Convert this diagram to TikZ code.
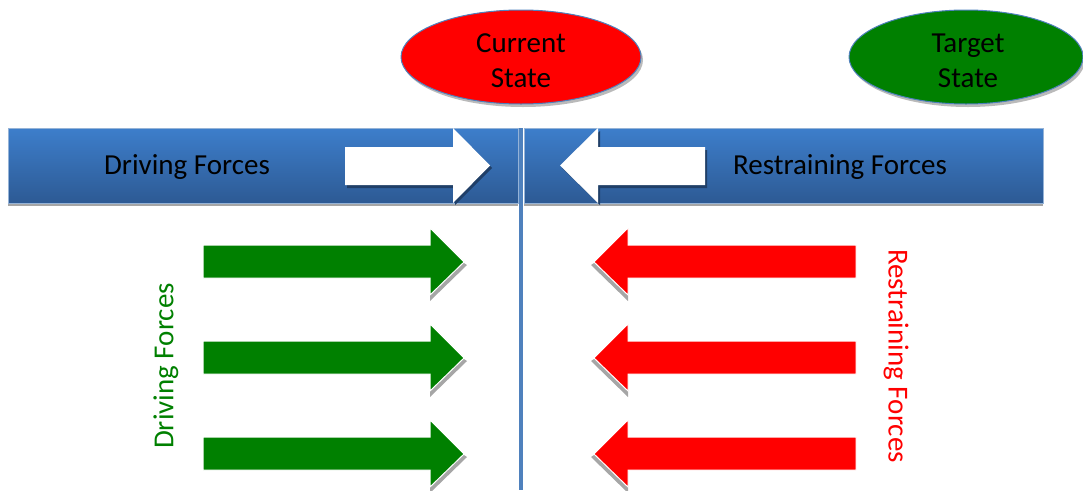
\documentclass[tikz,border=0pt]{standalone}
\usepackage{fontspec}
\setmainfont{Carlito}
\usetikzlibrary{shapes.geometric,shadows}
\definecolor{edgeblue}{HTML}{4F81BD}
\definecolor{bartop}{HTML}{3D7ECB}
\definecolor{barbot}{HTML}{2D5A94}
\definecolor{fgreen}{HTML}{008000}
\definecolor{fred}{HTML}{FF0000}
\definecolor{shadowgray}{HTML}{A6A6A6}
\begin{document}
\begin{tikzpicture}[x=1pt,y=-1pt,
  lbl/.style={font=\fontsize{29}{35}\selectfont, inner sep=0pt, align=center},
  statenode/.style={ellipse, draw=edgeblue, line width=1pt, inner sep=0pt,
    minimum width=240pt, minimum height=94pt,
    drop shadow={shadow xshift=2pt, shadow yshift=-3pt, fill=black!45, opacity=0.6}},
  barbox/.style={rectangle, inner sep=0pt, minimum height=75pt,
    top color=bartop, bottom color=barbot, draw=edgeblue!60!white, line width=0.6pt,
    drop shadow={shadow xshift=0pt, shadow yshift=-3pt, fill=black!35, opacity=1}},
  whitearrow/.style={fill=white, draw=none},
  arrowshadow/.style={fill=shadowgray, draw=none},
  greenarrow/.style={fill=fgreen, draw=white, line width=1pt},
  redarrow/.style={fill=fred, draw=white, line width=1pt}
]
\useasboundingbox (0,0) rectangle (1083,490);

% state ellipses
\node[statenode, fill=fred] (current) at (521,57) {};
\node[lbl] (currentlbl) at (521,61) {Current\\State};
\node[statenode, fill=fgreen, minimum width=234pt] (target) at (966,57) {};
\node[lbl] (targetlbl) at (968,61) {Target\\State};

% the two force bars
\node[barbox, minimum width=510pt] (leftbar) at (263,165.5) {};
\node[barbox, minimum width=519pt] (rightbar) at (783.5,165.5) {};
\node[lbl] (drivelbl) at (187,167) {Driving Forces};
\node[lbl] (restrlbl) at (840,167) {Restraining Forces};

% white arrows inside the bars
\fill[barbot!70!black] (347,150) -- (455,150) -- (455,131) -- (492,168) -- (455,205) -- (455,188) -- (347,188) -- cycle;
\fill[whitearrow] (345,147) -- (453,147) -- (453,128) -- (490,165.5) -- (453,203) -- (453,185) -- (345,185) -- cycle;
\fill[barbot!70!black] (707,150) -- (600,150) -- (600,131) -- (562,168) -- (600,205) -- (600,188) -- (707,188) -- cycle;
\fill[whitearrow] (705,147) -- (598,147) -- (598,128) -- (560,165.5) -- (598,203) -- (598,185) -- (705,185) -- cycle;

% dividing line
\coordinate (divtop) at (521,128);
\coordinate (divbot) at (521,490);
\draw[edgeblue, line width=3.4pt] (divtop) -- (divbot);

% driving force arrows
\foreach \c in {262,358,454}{
  \fill[arrowshadow] (203,\c+5) -- (430,\c+5) -- (430,\c+39) -- (467,\c+3) -- (464,\c+1) -- cycle;
  \filldraw[greenarrow] (203,\c-17) -- (430,\c-17) -- (430,\c-34) -- (464,\c) -- (430,\c+33) -- (430,\c+16) -- (203,\c+16) -- cycle;
}
% restraining force arrows
\foreach \c in {262,358,454}{
  \fill[arrowshadow] (856,\c+5) -- (628,\c+5) -- (628,\c+39) -- (591,\c+3) -- (594,\c+1) -- cycle;
  \filldraw[redarrow] (856,\c-17) -- (628,\c-17) -- (628,\c-34) -- (594,\c) -- (628,\c+33) -- (628,\c+16) -- (856,\c+16) -- cycle;
}

% side captions
\node[lbl, text=fgreen, rotate=90] (drivecap) at (166,366) {Driving Forces};
\node[lbl, text=fred, rotate=-90] (restrcap) at (896,356) {Restraining Forces};
\end{tikzpicture}
\end{document}
